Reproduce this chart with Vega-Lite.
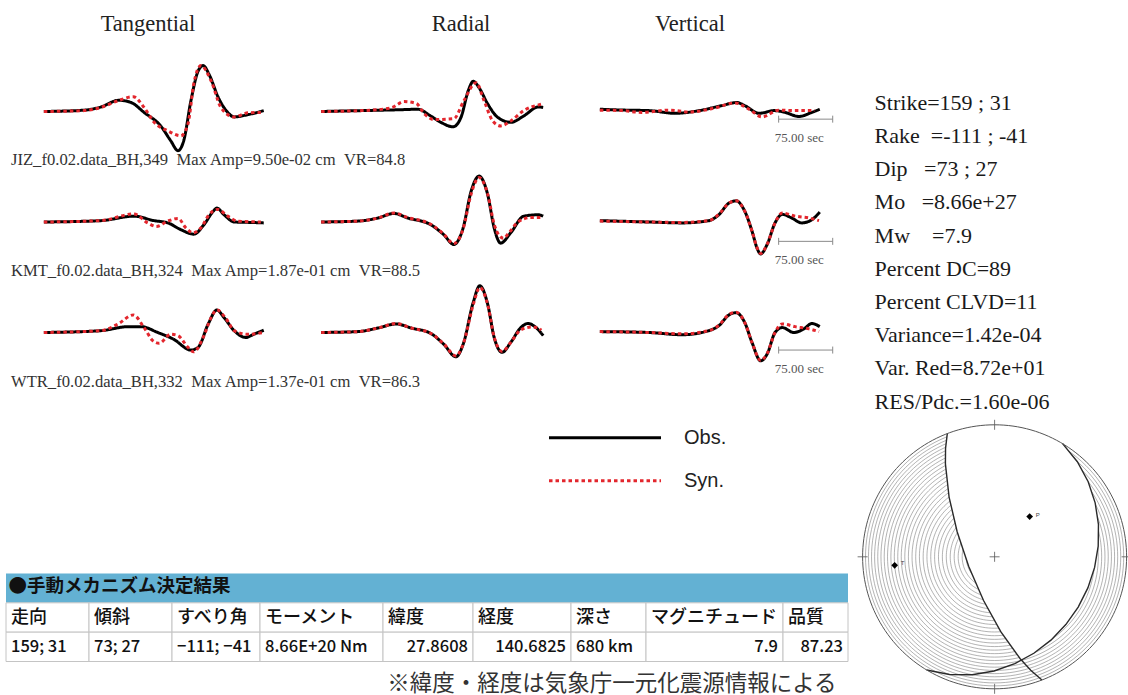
{
"$schema":"https://vega.github.io/schema/vega-lite/v6.json",
"background":"white",
"padding":{"left":5,"top":12.5,"right":0,"bottom":0},
"config":{"view":{"stroke":null},"title":{"fontWeight":"normal"}},
"datasets":{
"waves":[
{"station":"JIZ","comp":"Tangential","kind":"Obs.","t":4,"amp":0},{"station":"JIZ","comp":"Tangential","kind":"Obs.","t":60,"amp":0.03},{"station":"JIZ","comp":"Tangential","kind":"Obs.","t":83,"amp":0.1},{"station":"JIZ","comp":"Tangential","kind":"Obs.","t":108,"amp":0.25},{"station":"JIZ","comp":"Tangential","kind":"Obs.","t":125,"amp":0.2},{"station":"JIZ","comp":"Tangential","kind":"Obs.","t":143,"amp":-0.02},{"station":"JIZ","comp":"Tangential","kind":"Obs.","t":166,"amp":-0.32},{"station":"JIZ","comp":"Tangential","kind":"Obs.","t":180,"amp":-0.65},{"station":"JIZ","comp":"Tangential","kind":"Obs.","t":190,"amp":-0.87},{"station":"JIZ","comp":"Tangential","kind":"Obs.","t":198,"amp":-0.65},{"station":"JIZ","comp":"Tangential","kind":"Obs.","t":208,"amp":0.24},{"station":"JIZ","comp":"Tangential","kind":"Obs.","t":218,"amp":0.9},{"station":"JIZ","comp":"Tangential","kind":"Obs.","t":225,"amp":1.02},{"station":"JIZ","comp":"Tangential","kind":"Obs.","t":233,"amp":0.83},{"station":"JIZ","comp":"Tangential","kind":"Obs.","t":246,"amp":0.31},{"station":"JIZ","comp":"Tangential","kind":"Obs.","t":259,"amp":-0.02},{"station":"JIZ","comp":"Tangential","kind":"Obs.","t":268,"amp":-0.12},{"station":"JIZ","comp":"Tangential","kind":"Obs.","t":287,"amp":-0.07},{"station":"JIZ","comp":"Tangential","kind":"Obs.","t":309,"amp":0.02},
{"station":"JIZ","comp":"Tangential","kind":"Syn.","t":4,"amp":0},{"station":"JIZ","comp":"Tangential","kind":"Syn.","t":60,"amp":0.02},{"station":"JIZ","comp":"Tangential","kind":"Syn.","t":83,"amp":0.09},{"station":"JIZ","comp":"Tangential","kind":"Syn.","t":107,"amp":0.24},{"station":"JIZ","comp":"Tangential","kind":"Syn.","t":128,"amp":0.33},{"station":"JIZ","comp":"Tangential","kind":"Syn.","t":143,"amp":0.09},{"station":"JIZ","comp":"Tangential","kind":"Syn.","t":157,"amp":-0.24},{"station":"JIZ","comp":"Tangential","kind":"Syn.","t":176,"amp":-0.43},{"station":"JIZ","comp":"Tangential","kind":"Syn.","t":194,"amp":-0.54},{"station":"JIZ","comp":"Tangential","kind":"Syn.","t":204,"amp":-0.27},{"station":"JIZ","comp":"Tangential","kind":"Syn.","t":212,"amp":0.62},{"station":"JIZ","comp":"Tangential","kind":"Syn.","t":222,"amp":1.02},{"station":"JIZ","comp":"Tangential","kind":"Syn.","t":236,"amp":0.68},{"station":"JIZ","comp":"Tangential","kind":"Syn.","t":250,"amp":0.08},{"station":"JIZ","comp":"Tangential","kind":"Syn.","t":268,"amp":-0.12},{"station":"JIZ","comp":"Tangential","kind":"Syn.","t":287,"amp":-0.03},{"station":"JIZ","comp":"Tangential","kind":"Syn.","t":305,"amp":-0.02},
{"station":"JIZ","comp":"Radial","kind":"Obs.","t":3,"amp":0},{"station":"JIZ","comp":"Radial","kind":"Obs.","t":60,"amp":0.02},{"station":"JIZ","comp":"Radial","kind":"Obs.","t":114,"amp":0.04},{"station":"JIZ","comp":"Radial","kind":"Obs.","t":137,"amp":0.05},{"station":"JIZ","comp":"Radial","kind":"Obs.","t":155,"amp":-0.1},{"station":"JIZ","comp":"Radial","kind":"Obs.","t":169,"amp":-0.24},{"station":"JIZ","comp":"Radial","kind":"Obs.","t":186,"amp":-0.34},{"station":"JIZ","comp":"Radial","kind":"Obs.","t":197,"amp":-0.13},{"station":"JIZ","comp":"Radial","kind":"Obs.","t":207,"amp":0.46},{"station":"JIZ","comp":"Radial","kind":"Obs.","t":214,"amp":0.67},{"station":"JIZ","comp":"Radial","kind":"Obs.","t":222,"amp":0.53},{"station":"JIZ","comp":"Radial","kind":"Obs.","t":234,"amp":0.17},{"station":"JIZ","comp":"Radial","kind":"Obs.","t":248,"amp":-0.13},{"station":"JIZ","comp":"Radial","kind":"Obs.","t":266,"amp":-0.24},{"station":"JIZ","comp":"Radial","kind":"Obs.","t":284,"amp":-0.1},{"station":"JIZ","comp":"Radial","kind":"Obs.","t":304,"amp":0.1},{"station":"JIZ","comp":"Radial","kind":"Obs.","t":311,"amp":0.09},
{"station":"JIZ","comp":"Radial","kind":"Syn.","t":3,"amp":0},{"station":"JIZ","comp":"Radial","kind":"Syn.","t":60,"amp":0.02},{"station":"JIZ","comp":"Radial","kind":"Syn.","t":100,"amp":0.08},{"station":"JIZ","comp":"Radial","kind":"Syn.","t":118,"amp":0.22},{"station":"JIZ","comp":"Radial","kind":"Syn.","t":135,"amp":0.18},{"station":"JIZ","comp":"Radial","kind":"Syn.","t":146,"amp":-0.05},{"station":"JIZ","comp":"Radial","kind":"Syn.","t":160,"amp":-0.18},{"station":"JIZ","comp":"Radial","kind":"Syn.","t":187,"amp":-0.16},{"station":"JIZ","comp":"Radial","kind":"Syn.","t":201,"amp":0.24},{"station":"JIZ","comp":"Radial","kind":"Syn.","t":218,"amp":0.64},{"station":"JIZ","comp":"Radial","kind":"Syn.","t":229,"amp":0.24},{"station":"JIZ","comp":"Radial","kind":"Syn.","t":241,"amp":-0.21},{"station":"JIZ","comp":"Radial","kind":"Syn.","t":252,"amp":-0.32},{"station":"JIZ","comp":"Radial","kind":"Syn.","t":266,"amp":-0.21},{"station":"JIZ","comp":"Radial","kind":"Syn.","t":284,"amp":0.02},{"station":"JIZ","comp":"Radial","kind":"Syn.","t":308,"amp":0.16},
{"station":"JIZ","comp":"Vertical","kind":"Obs.","t":4,"amp":0.05},{"station":"JIZ","comp":"Vertical","kind":"Obs.","t":40,"amp":0.03},{"station":"JIZ","comp":"Vertical","kind":"Obs.","t":72,"amp":0.02},{"station":"JIZ","comp":"Vertical","kind":"Obs.","t":108,"amp":-0.04},{"station":"JIZ","comp":"Vertical","kind":"Obs.","t":142,"amp":0.02},{"station":"JIZ","comp":"Vertical","kind":"Obs.","t":173,"amp":0.13},{"station":"JIZ","comp":"Vertical","kind":"Obs.","t":194,"amp":0.2},{"station":"JIZ","comp":"Vertical","kind":"Obs.","t":205,"amp":0.13},{"station":"JIZ","comp":"Vertical","kind":"Obs.","t":225,"amp":-0.04},{"station":"JIZ","comp":"Vertical","kind":"Obs.","t":246,"amp":0.02},{"station":"JIZ","comp":"Vertical","kind":"Obs.","t":261,"amp":-0.02},{"station":"JIZ","comp":"Vertical","kind":"Obs.","t":280,"amp":-0.11},{"station":"JIZ","comp":"Vertical","kind":"Obs.","t":298,"amp":-0.02},{"station":"JIZ","comp":"Vertical","kind":"Obs.","t":309,"amp":0.05},
{"station":"JIZ","comp":"Vertical","kind":"Syn.","t":4,"amp":0.03},{"station":"JIZ","comp":"Vertical","kind":"Syn.","t":35,"amp":0.02},{"station":"JIZ","comp":"Vertical","kind":"Syn.","t":62,"amp":-0.02},{"station":"JIZ","comp":"Vertical","kind":"Syn.","t":100,"amp":0.03},{"station":"JIZ","comp":"Vertical","kind":"Syn.","t":128,"amp":-0.01},{"station":"JIZ","comp":"Vertical","kind":"Syn.","t":164,"amp":0.08},{"station":"JIZ","comp":"Vertical","kind":"Syn.","t":191,"amp":0.19},{"station":"JIZ","comp":"Vertical","kind":"Syn.","t":211,"amp":0.05},{"station":"JIZ","comp":"Vertical","kind":"Syn.","t":229,"amp":-0.12},{"station":"JIZ","comp":"Vertical","kind":"Syn.","t":252,"amp":0.03},{"station":"JIZ","comp":"Vertical","kind":"Syn.","t":274,"amp":0.02},{"station":"JIZ","comp":"Vertical","kind":"Syn.","t":302,"amp":0.02},
{"station":"KMT","comp":"Tangential","kind":"Obs.","t":4,"amp":0},{"station":"KMT","comp":"Tangential","kind":"Obs.","t":83,"amp":0.03},{"station":"KMT","comp":"Tangential","kind":"Obs.","t":129,"amp":0.13},{"station":"KMT","comp":"Tangential","kind":"Obs.","t":157,"amp":0.03},{"station":"KMT","comp":"Tangential","kind":"Obs.","t":176,"amp":-0.02},{"station":"KMT","comp":"Tangential","kind":"Obs.","t":194,"amp":-0.17},{"station":"KMT","comp":"Tangential","kind":"Obs.","t":212,"amp":-0.27},{"station":"KMT","comp":"Tangential","kind":"Obs.","t":226,"amp":-0.06},{"station":"KMT","comp":"Tangential","kind":"Obs.","t":239,"amp":0.24},{"station":"KMT","comp":"Tangential","kind":"Obs.","t":244,"amp":0.31},{"station":"KMT","comp":"Tangential","kind":"Obs.","t":254,"amp":0.16},{"station":"KMT","comp":"Tangential","kind":"Obs.","t":268,"amp":0},{"station":"KMT","comp":"Tangential","kind":"Obs.","t":291,"amp":-0.01},{"station":"KMT","comp":"Tangential","kind":"Obs.","t":309,"amp":-0.02},
{"station":"KMT","comp":"Tangential","kind":"Syn.","t":4,"amp":0},{"station":"KMT","comp":"Tangential","kind":"Syn.","t":83,"amp":0.03},{"station":"KMT","comp":"Tangential","kind":"Syn.","t":129,"amp":0.18},{"station":"KMT","comp":"Tangential","kind":"Syn.","t":148,"amp":-0.02},{"station":"KMT","comp":"Tangential","kind":"Syn.","t":160,"amp":-0.1},{"station":"KMT","comp":"Tangential","kind":"Syn.","t":176,"amp":0.02},{"station":"KMT","comp":"Tangential","kind":"Syn.","t":190,"amp":0.08},{"station":"KMT","comp":"Tangential","kind":"Syn.","t":201,"amp":-0.13},{"station":"KMT","comp":"Tangential","kind":"Syn.","t":211,"amp":-0.24},{"station":"KMT","comp":"Tangential","kind":"Syn.","t":222,"amp":-0.13},{"station":"KMT","comp":"Tangential","kind":"Syn.","t":233,"amp":0.16},{"station":"KMT","comp":"Tangential","kind":"Syn.","t":245,"amp":0.28},{"station":"KMT","comp":"Tangential","kind":"Syn.","t":259,"amp":0.13},{"station":"KMT","comp":"Tangential","kind":"Syn.","t":273,"amp":0.02},{"station":"KMT","comp":"Tangential","kind":"Syn.","t":305,"amp":0},
{"station":"KMT","comp":"Radial","kind":"Obs.","t":3,"amp":0},{"station":"KMT","comp":"Radial","kind":"Obs.","t":54,"amp":0.02},{"station":"KMT","comp":"Radial","kind":"Obs.","t":82,"amp":0.09},{"station":"KMT","comp":"Radial","kind":"Obs.","t":104,"amp":0.19},{"station":"KMT","comp":"Radial","kind":"Obs.","t":123,"amp":0.09},{"station":"KMT","comp":"Radial","kind":"Obs.","t":155,"amp":-0.06},{"station":"KMT","comp":"Radial","kind":"Obs.","t":173,"amp":-0.28},{"station":"KMT","comp":"Radial","kind":"Obs.","t":187,"amp":-0.5},{"station":"KMT","comp":"Radial","kind":"Obs.","t":200,"amp":-0.13},{"station":"KMT","comp":"Radial","kind":"Obs.","t":211,"amp":0.68},{"station":"KMT","comp":"Radial","kind":"Obs.","t":222,"amp":1.02},{"station":"KMT","comp":"Radial","kind":"Obs.","t":234,"amp":0.61},{"station":"KMT","comp":"Radial","kind":"Obs.","t":243,"amp":-0.13},{"station":"KMT","comp":"Radial","kind":"Obs.","t":252,"amp":-0.47},{"station":"KMT","comp":"Radial","kind":"Obs.","t":266,"amp":-0.24},{"station":"KMT","comp":"Radial","kind":"Obs.","t":284,"amp":0.13},{"station":"KMT","comp":"Radial","kind":"Obs.","t":304,"amp":0.16},{"station":"KMT","comp":"Radial","kind":"Obs.","t":311,"amp":0.13},
{"station":"KMT","comp":"Radial","kind":"Syn.","t":3,"amp":0},{"station":"KMT","comp":"Radial","kind":"Syn.","t":54,"amp":0.02},{"station":"KMT","comp":"Radial","kind":"Syn.","t":82,"amp":0.09},{"station":"KMT","comp":"Radial","kind":"Syn.","t":104,"amp":0.2},{"station":"KMT","comp":"Radial","kind":"Syn.","t":123,"amp":0.1},{"station":"KMT","comp":"Radial","kind":"Syn.","t":155,"amp":-0.05},{"station":"KMT","comp":"Radial","kind":"Syn.","t":173,"amp":-0.27},{"station":"KMT","comp":"Radial","kind":"Syn.","t":187,"amp":-0.48},{"station":"KMT","comp":"Radial","kind":"Syn.","t":200,"amp":-0.15},{"station":"KMT","comp":"Radial","kind":"Syn.","t":211,"amp":0.62},{"station":"KMT","comp":"Radial","kind":"Syn.","t":222,"amp":0.99},{"station":"KMT","comp":"Radial","kind":"Syn.","t":234,"amp":0.62},{"station":"KMT","comp":"Radial","kind":"Syn.","t":243,"amp":-0.05},{"station":"KMT","comp":"Radial","kind":"Syn.","t":250,"amp":-0.3},{"station":"KMT","comp":"Radial","kind":"Syn.","t":256,"amp":-0.36},{"station":"KMT","comp":"Radial","kind":"Syn.","t":263,"amp":-0.25},{"station":"KMT","comp":"Radial","kind":"Syn.","t":276,"amp":0},{"station":"KMT","comp":"Radial","kind":"Syn.","t":294,"amp":0.1},{"station":"KMT","comp":"Radial","kind":"Syn.","t":311,"amp":0.1},
{"station":"KMT","comp":"Vertical","kind":"Obs.","t":4,"amp":0.03},{"station":"KMT","comp":"Vertical","kind":"Obs.","t":72,"amp":0},{"station":"KMT","comp":"Vertical","kind":"Obs.","t":118,"amp":-0.02},{"station":"KMT","comp":"Vertical","kind":"Obs.","t":155,"amp":0.03},{"station":"KMT","comp":"Vertical","kind":"Obs.","t":169,"amp":0.16},{"station":"KMT","comp":"Vertical","kind":"Obs.","t":183,"amp":0.42},{"station":"KMT","comp":"Vertical","kind":"Obs.","t":193,"amp":0.47},{"station":"KMT","comp":"Vertical","kind":"Obs.","t":205,"amp":0.24},{"station":"KMT","comp":"Vertical","kind":"Obs.","t":215,"amp":-0.2},{"station":"KMT","comp":"Vertical","kind":"Obs.","t":222,"amp":-0.58},{"station":"KMT","comp":"Vertical","kind":"Obs.","t":227,"amp":-0.71},{"station":"KMT","comp":"Vertical","kind":"Obs.","t":236,"amp":-0.5},{"station":"KMT","comp":"Vertical","kind":"Obs.","t":247,"amp":-0.02},{"station":"KMT","comp":"Vertical","kind":"Obs.","t":257,"amp":0.17},{"station":"KMT","comp":"Vertical","kind":"Obs.","t":270,"amp":0.09},{"station":"KMT","comp":"Vertical","kind":"Obs.","t":284,"amp":-0.02},{"station":"KMT","comp":"Vertical","kind":"Obs.","t":298,"amp":0.05},{"station":"KMT","comp":"Vertical","kind":"Obs.","t":309,"amp":0.22},
{"station":"KMT","comp":"Vertical","kind":"Syn.","t":4,"amp":0.02},{"station":"KMT","comp":"Vertical","kind":"Syn.","t":72,"amp":0},{"station":"KMT","comp":"Vertical","kind":"Syn.","t":118,"amp":-0.01},{"station":"KMT","comp":"Vertical","kind":"Syn.","t":155,"amp":0.03},{"station":"KMT","comp":"Vertical","kind":"Syn.","t":169,"amp":0.17},{"station":"KMT","comp":"Vertical","kind":"Syn.","t":183,"amp":0.42},{"station":"KMT","comp":"Vertical","kind":"Syn.","t":193,"amp":0.47},{"station":"KMT","comp":"Vertical","kind":"Syn.","t":205,"amp":0.24},{"station":"KMT","comp":"Vertical","kind":"Syn.","t":215,"amp":-0.2},{"station":"KMT","comp":"Vertical","kind":"Syn.","t":222,"amp":-0.57},{"station":"KMT","comp":"Vertical","kind":"Syn.","t":227,"amp":-0.7},{"station":"KMT","comp":"Vertical","kind":"Syn.","t":236,"amp":-0.5},{"station":"KMT","comp":"Vertical","kind":"Syn.","t":247,"amp":-0.02},{"station":"KMT","comp":"Vertical","kind":"Syn.","t":257,"amp":0.2},{"station":"KMT","comp":"Vertical","kind":"Syn.","t":275,"amp":0.13},{"station":"KMT","comp":"Vertical","kind":"Syn.","t":294,"amp":0.09},{"station":"KMT","comp":"Vertical","kind":"Syn.","t":308,"amp":0.03},
{"station":"WTR","comp":"Tangential","kind":"Obs.","t":4,"amp":0},{"station":"WTR","comp":"Tangential","kind":"Obs.","t":83,"amp":0.04},{"station":"WTR","comp":"Tangential","kind":"Obs.","t":121,"amp":0.13},{"station":"WTR","comp":"Tangential","kind":"Obs.","t":139,"amp":0.13},{"station":"WTR","comp":"Tangential","kind":"Obs.","t":162,"amp":0},{"station":"WTR","comp":"Tangential","kind":"Obs.","t":184,"amp":-0.15},{"station":"WTR","comp":"Tangential","kind":"Obs.","t":208,"amp":-0.39},{"station":"WTR","comp":"Tangential","kind":"Obs.","t":218,"amp":-0.33},{"station":"WTR","comp":"Tangential","kind":"Obs.","t":232,"amp":0.19},{"station":"WTR","comp":"Tangential","kind":"Obs.","t":244,"amp":0.5},{"station":"WTR","comp":"Tangential","kind":"Obs.","t":254,"amp":0.33},{"station":"WTR","comp":"Tangential","kind":"Obs.","t":268,"amp":0.04},{"station":"WTR","comp":"Tangential","kind":"Obs.","t":284,"amp":-0.11},{"station":"WTR","comp":"Tangential","kind":"Obs.","t":295,"amp":-0.04},{"station":"WTR","comp":"Tangential","kind":"Obs.","t":309,"amp":0.05},
{"station":"WTR","comp":"Tangential","kind":"Syn.","t":4,"amp":0},{"station":"WTR","comp":"Tangential","kind":"Syn.","t":83,"amp":0.04},{"station":"WTR","comp":"Tangential","kind":"Syn.","t":107,"amp":0.19},{"station":"WTR","comp":"Tangential","kind":"Syn.","t":128,"amp":0.39},{"station":"WTR","comp":"Tangential","kind":"Syn.","t":143,"amp":0.11},{"station":"WTR","comp":"Tangential","kind":"Syn.","t":155,"amp":-0.18},{"station":"WTR","comp":"Tangential","kind":"Syn.","t":164,"amp":-0.24},{"station":"WTR","comp":"Tangential","kind":"Syn.","t":180,"amp":-0.04},{"station":"WTR","comp":"Tangential","kind":"Syn.","t":190,"amp":-0.07},{"station":"WTR","comp":"Tangential","kind":"Syn.","t":204,"amp":-0.33},{"station":"WTR","comp":"Tangential","kind":"Syn.","t":212,"amp":-0.43},{"station":"WTR","comp":"Tangential","kind":"Syn.","t":225,"amp":-0.11},{"station":"WTR","comp":"Tangential","kind":"Syn.","t":236,"amp":0.33},{"station":"WTR","comp":"Tangential","kind":"Syn.","t":244,"amp":0.5},{"station":"WTR","comp":"Tangential","kind":"Syn.","t":257,"amp":0.3},{"station":"WTR","comp":"Tangential","kind":"Syn.","t":268,"amp":0.04},{"station":"WTR","comp":"Tangential","kind":"Syn.","t":287,"amp":-0.04},{"station":"WTR","comp":"Tangential","kind":"Syn.","t":309,"amp":0},
{"station":"WTR","comp":"Radial","kind":"Obs.","t":3,"amp":0},{"station":"WTR","comp":"Radial","kind":"Obs.","t":54,"amp":0.02},{"station":"WTR","comp":"Radial","kind":"Obs.","t":82,"amp":0.1},{"station":"WTR","comp":"Radial","kind":"Obs.","t":107,"amp":0.19},{"station":"WTR","comp":"Radial","kind":"Obs.","t":128,"amp":0.1},{"station":"WTR","comp":"Radial","kind":"Obs.","t":155,"amp":-0.02},{"station":"WTR","comp":"Radial","kind":"Obs.","t":173,"amp":-0.26},{"station":"WTR","comp":"Radial","kind":"Obs.","t":190,"amp":-0.54},{"station":"WTR","comp":"Radial","kind":"Obs.","t":200,"amp":-0.26},{"station":"WTR","comp":"Radial","kind":"Obs.","t":214,"amp":0.67},{"station":"WTR","comp":"Radial","kind":"Obs.","t":223,"amp":1.04},{"station":"WTR","comp":"Radial","kind":"Obs.","t":234,"amp":0.63},{"station":"WTR","comp":"Radial","kind":"Obs.","t":243,"amp":-0.11},{"station":"WTR","comp":"Radial","kind":"Obs.","t":254,"amp":-0.44},{"station":"WTR","comp":"Radial","kind":"Obs.","t":266,"amp":-0.22},{"station":"WTR","comp":"Radial","kind":"Obs.","t":280,"amp":0.11},{"station":"WTR","comp":"Radial","kind":"Obs.","t":290,"amp":0.2},{"station":"WTR","comp":"Radial","kind":"Obs.","t":301,"amp":0.11},{"station":"WTR","comp":"Radial","kind":"Obs.","t":311,"amp":-0.07},
{"station":"WTR","comp":"Radial","kind":"Syn.","t":3,"amp":0},{"station":"WTR","comp":"Radial","kind":"Syn.","t":54,"amp":0.02},{"station":"WTR","comp":"Radial","kind":"Syn.","t":82,"amp":0.1},{"station":"WTR","comp":"Radial","kind":"Syn.","t":107,"amp":0.2},{"station":"WTR","comp":"Radial","kind":"Syn.","t":128,"amp":0.1},{"station":"WTR","comp":"Radial","kind":"Syn.","t":155,"amp":-0.02},{"station":"WTR","comp":"Radial","kind":"Syn.","t":173,"amp":-0.25},{"station":"WTR","comp":"Radial","kind":"Syn.","t":190,"amp":-0.52},{"station":"WTR","comp":"Radial","kind":"Syn.","t":200,"amp":-0.26},{"station":"WTR","comp":"Radial","kind":"Syn.","t":214,"amp":0.62},{"station":"WTR","comp":"Radial","kind":"Syn.","t":223,"amp":1.0},{"station":"WTR","comp":"Radial","kind":"Syn.","t":234,"amp":0.62},{"station":"WTR","comp":"Radial","kind":"Syn.","t":243,"amp":-0.1},{"station":"WTR","comp":"Radial","kind":"Syn.","t":254,"amp":-0.42},{"station":"WTR","comp":"Radial","kind":"Syn.","t":266,"amp":-0.22},{"station":"WTR","comp":"Radial","kind":"Syn.","t":280,"amp":0.06},{"station":"WTR","comp":"Radial","kind":"Syn.","t":294,"amp":0.12},{"station":"WTR","comp":"Radial","kind":"Syn.","t":304,"amp":0.11},{"station":"WTR","comp":"Radial","kind":"Syn.","t":308,"amp":0.05},
{"station":"WTR","comp":"Vertical","kind":"Obs.","t":4,"amp":0.02},{"station":"WTR","comp":"Vertical","kind":"Obs.","t":72,"amp":0},{"station":"WTR","comp":"Vertical","kind":"Obs.","t":118,"amp":-0.05},{"station":"WTR","comp":"Vertical","kind":"Obs.","t":155,"amp":0.04},{"station":"WTR","comp":"Vertical","kind":"Obs.","t":169,"amp":0.15},{"station":"WTR","comp":"Vertical","kind":"Obs.","t":183,"amp":0.39},{"station":"WTR","comp":"Vertical","kind":"Obs.","t":193,"amp":0.44},{"station":"WTR","comp":"Vertical","kind":"Obs.","t":205,"amp":0.22},{"station":"WTR","comp":"Vertical","kind":"Obs.","t":215,"amp":-0.22},{"station":"WTR","comp":"Vertical","kind":"Obs.","t":227,"amp":-0.63},{"station":"WTR","comp":"Vertical","kind":"Obs.","t":236,"amp":-0.48},{"station":"WTR","comp":"Vertical","kind":"Obs.","t":247,"amp":0},{"station":"WTR","comp":"Vertical","kind":"Obs.","t":257,"amp":0.11},{"station":"WTR","comp":"Vertical","kind":"Obs.","t":273,"amp":0},{"station":"WTR","comp":"Vertical","kind":"Obs.","t":287,"amp":0.08},{"station":"WTR","comp":"Vertical","kind":"Obs.","t":298,"amp":0.2},{"station":"WTR","comp":"Vertical","kind":"Obs.","t":309,"amp":0.13},
{"station":"WTR","comp":"Vertical","kind":"Syn.","t":4,"amp":0.02},{"station":"WTR","comp":"Vertical","kind":"Syn.","t":72,"amp":0},{"station":"WTR","comp":"Vertical","kind":"Syn.","t":118,"amp":-0.03},{"station":"WTR","comp":"Vertical","kind":"Syn.","t":155,"amp":0.04},{"station":"WTR","comp":"Vertical","kind":"Syn.","t":169,"amp":0.16},{"station":"WTR","comp":"Vertical","kind":"Syn.","t":183,"amp":0.4},{"station":"WTR","comp":"Vertical","kind":"Syn.","t":193,"amp":0.45},{"station":"WTR","comp":"Vertical","kind":"Syn.","t":205,"amp":0.22},{"station":"WTR","comp":"Vertical","kind":"Syn.","t":215,"amp":-0.22},{"station":"WTR","comp":"Vertical","kind":"Syn.","t":227,"amp":-0.62},{"station":"WTR","comp":"Vertical","kind":"Syn.","t":236,"amp":-0.47},{"station":"WTR","comp":"Vertical","kind":"Syn.","t":247,"amp":0},{"station":"WTR","comp":"Vertical","kind":"Syn.","t":257,"amp":0.19},{"station":"WTR","comp":"Vertical","kind":"Syn.","t":275,"amp":0.13},{"station":"WTR","comp":"Vertical","kind":"Syn.","t":294,"amp":0.08},{"station":"WTR","comp":"Vertical","kind":"Syn.","t":308,"amp":0.02}
],
"bars":[
{"station":"JIZ","start":252,"end":327,"amp":-0.17,"label":"75.00 sec"},
{"station":"KMT","start":252,"end":327,"amp":-0.43,"label":"75.00 sec"},
{"station":"WTR","start":252,"end":327,"amp":-0.39,"label":"75.00 sec"}
],
"legendKey":[{"kind":"Obs.","p":0},{"kind":"Obs.","p":1},{"kind":"Syn.","p":0},{"kind":"Syn.","p":1}],
"params":[
{"line":0,"label":"Strike=159 ; 31"},
{"line":1,"label":"Rake\u00a0\u00a0=-111 ; -41"},
{"line":2,"label":"Dip\u00a0\u00a0\u00a0=73 ; 27"},
{"line":3,"label":"Mo\u00a0\u00a0\u00a0=8.66e+27"},
{"line":4,"label":"Mw\u00a0\u00a0\u00a0\u00a0=7.9"},
{"line":5,"label":"Percent DC=89"},
{"line":6,"label":"Percent CLVD=11"},
{"line":7,"label":"Variance=1.42e-04"},
{"line":8,"label":"Var. Red=8.72e+01"},
{"line":9,"label":"RES/Pdc.=1.60e-06"}
],
"table":[
{"row":"title","col":"走向"},{"row":"title","col":"傾斜"},{"row":"title","col":"すべり角"},{"row":"title","col":"モーメント"},{"row":"title","col":"緯度"},{"row":"title","col":"経度"},{"row":"title","col":"深さ"},{"row":"title","col":"マグニチュード"},{"row":"title","col":"品質"},
{"row":"head","col":"走向","text":"走向"},{"row":"head","col":"傾斜","text":"傾斜"},{"row":"head","col":"すべり角","text":"すべり角"},{"row":"head","col":"モーメント","text":"モーメント"},{"row":"head","col":"緯度","text":"緯度"},{"row":"head","col":"経度","text":"経度"},{"row":"head","col":"深さ","text":"深さ"},{"row":"head","col":"マグニチュード","text":"マグニチュード"},{"row":"head","col":"品質","text":"品質"},
{"row":"val","col":"走向","text":"159; 31"},{"row":"val","col":"傾斜","text":"73; 27"},{"row":"val","col":"すべり角","text":"−111; −41"},{"row":"val","col":"モーメント","text":"8.66E+20 Nm"},{"row":"val","col":"緯度","text":"27.8608"},{"row":"val","col":"経度","text":"140.6825"},{"row":"val","col":"深さ","text":"680 km"},{"row":"val","col":"マグニチュード","text":"7.9"},{"row":"val","col":"品質","text":"87.23"}
],
"dilatation":[{"type":"Feature","properties":{"quadrant":"dilatation"},"geometry":{"type":"Polygon","coordinates":[[[-159,0],[180,-10],[149,0],[59,27],[14.6,20],[-69,73],[-159,0]]]}}],
"planes":[
{"type":"Feature","properties":{"plane":"strike 159 dip 73"},"geometry":{"type":"LineString","coordinates":[[-159,0],[-69,73],[21,0]]}},
{"type":"Feature","properties":{"plane":"strike 31 dip 27"},"geometry":{"type":"LineString","coordinates":[[149,0],[59,27],[-31,0]]}}
],
"axesPT":[{"axis":"P","lon":138.9,"lat":56.8},{"axis":"T","lon":-85.1,"lat":25.0}],
"netMarks":[{"name":"N","lon":180,"lat":0},{"name":"S","lon":0,"lat":0},{"name":"E","lon":90,"lat":0},{"name":"W","lon":-90,"lat":0},{"name":"C","lon":0,"lat":90}]
},
"hconcat":[
{"concat":[
  {"width":278,"height":72,"title":{"text":"Tangential","anchor":"middle","dx":3,"offset":28.3,"font":"Liberation Serif","fontSize":22.5,"fontWeight":"normal","color":"#222"},
   "data":{"name":"waves"},"transform":[{"filter":"datum.station==='JIZ' && datum.comp==='Tangential'"}],
   "mark":{"type":"line","interpolate":"monotone","strokeWidth":3,"strokeCap":"butt","strokeJoin":"round"},
   "encoding":{"x":{"field":"t","type":"quantitative","scale":{"domain":[-48.5,337.1]},"axis":null},"y":{"field":"amp","type":"quantitative","scale":{"domain":[-0.8,0.8]},"axis":null},"color":{"field":"kind","type":"nominal","scale":{"domain":["Obs.","Syn."],"range":["#000000","#e3262d"]},"legend":null},"strokeDash":{"field":"kind","type":"nominal","scale":{"domain":["Obs.","Syn."],"range":[[1,0],[3.5,3]]},"legend":null}}},
  {"width":278,"height":72,"title":{"text":"Radial","anchor":"middle","dx":38,"offset":39.7,"font":"Liberation Serif","fontSize":22.5,"fontWeight":"normal","color":"#222"},
   "data":{"name":"waves"},"transform":[{"filter":"datum.station==='JIZ' && datum.comp==='Radial'"}],
   "mark":{"type":"line","interpolate":"monotone","strokeWidth":3,"strokeCap":"butt","strokeJoin":"round"},
   "encoding":{"x":{"field":"t","type":"quantitative","scale":{"domain":[-48.5,337.1]},"axis":null},"y":{"field":"amp","type":"quantitative","scale":{"domain":[-0.8,0.8]},"axis":null},"color":{"field":"kind","type":"nominal","scale":{"domain":["Obs.","Syn."],"range":["#000000","#e3262d"]},"legend":null},"strokeDash":{"field":"kind","type":"nominal","scale":{"domain":["Obs.","Syn."],"range":[[1,0],[3.5,3]]},"legend":null}}},
  {"width":278,"height":72,"title":{"text":"Vertical","anchor":"middle","dx":-11,"offset":39.7,"font":"Liberation Serif","fontSize":22.5,"fontWeight":"normal","color":"#222"},
   "layer":[
    {"data":{"name":"waves"},"transform":[{"filter":"datum.station==='JIZ' && datum.comp==='Vertical'"}],
     "mark":{"type":"line","interpolate":"monotone","strokeWidth":3,"strokeCap":"butt","strokeJoin":"round"},
     "encoding":{"x":{"field":"t","type":"quantitative","scale":{"domain":[-48.5,337.1]},"axis":null},"y":{"field":"amp","type":"quantitative","scale":{"domain":[-0.8,0.8]},"axis":null},"color":{"field":"kind","type":"nominal","scale":{"domain":["Obs.","Syn."],"range":["#000000","#e3262d"]},"legend":null},"strokeDash":{"field":"kind","type":"nominal","scale":{"domain":["Obs.","Syn."],"range":[[1,0],[3.5,3]]},"legend":null}}},
    {"data":{"name":"bars"},"transform":[{"filter":"datum.station==='JIZ'"}],"mark":{"type":"rule","color":"#8a8a8a","strokeWidth":1},
     "encoding":{"x":{"field":"start","type":"quantitative","scale":{"domain":[-48.5,337.1]},"axis":null},"x2":{"field":"end"},"y":{"field":"amp","type":"quantitative","scale":{"domain":[-0.8,0.8]},"axis":null}}},
    {"data":{"name":"bars"},"transform":[{"filter":"datum.station==='JIZ'"}],"mark":{"type":"point","shape":"M0,-1V1","filled":false,"stroke":"#8a8a8a","strokeWidth":1,"size":49,"opacity":1},
     "encoding":{"x":{"field":"start","type":"quantitative","scale":{"domain":[-48.5,337.1]},"axis":null},"y":{"field":"amp","type":"quantitative","scale":{"domain":[-0.8,0.8]},"axis":null}}},
    {"data":{"name":"bars"},"transform":[{"filter":"datum.station==='JIZ'"}],"mark":{"type":"point","shape":"M0,-1V1","filled":false,"stroke":"#8a8a8a","strokeWidth":1,"size":49,"opacity":1},
     "encoding":{"x":{"field":"end","type":"quantitative","scale":{"domain":[-48.5,337.1]},"axis":null},"y":{"field":"amp","type":"quantitative","scale":{"domain":[-0.8,0.8]},"axis":null}}},
    {"data":{"name":"bars"},"transform":[{"filter":"datum.station==='JIZ'"}],"mark":{"type":"text","align":"left","baseline":"middle","dx":-4,"dy":18.5,"font":"Liberation Serif","fontSize":13,"color":"#555"},
     "encoding":{"x":{"field":"start","type":"quantitative","scale":{"domain":[-48.5,337.1]},"axis":null},"y":{"field":"amp","type":"quantitative","scale":{"domain":[-0.8,0.8]},"axis":null},"text":{"field":"label"}}}
   ]},
  {"width":278,"height":72,"title":{"text":"JIZ_f0.02.data_BH,349\u00a0\u00a0Max Amp=9.50e-02 cm\u00a0\u00a0VR=84.8","anchor":"start","dx":5,"offset":17.8,"font":"Liberation Serif","fontSize":16.6,"fontWeight":"normal","color":"#333"},
   "data":{"name":"waves"},"transform":[{"filter":"datum.station==='KMT' && datum.comp==='Tangential'"}],
   "mark":{"type":"line","interpolate":"monotone","strokeWidth":3,"strokeCap":"butt","strokeJoin":"round"},
   "encoding":{"x":{"field":"t","type":"quantitative","scale":{"domain":[-48.5,337.1]},"axis":null},"y":{"field":"amp","type":"quantitative","scale":{"domain":[-0.8,0.8]},"axis":null},"color":{"field":"kind","type":"nominal","scale":{"domain":["Obs.","Syn."],"range":["#000000","#e3262d"]},"legend":null},"strokeDash":{"field":"kind","type":"nominal","scale":{"domain":["Obs.","Syn."],"range":[[1,0],[3.5,3]]},"legend":null}}},
  {"width":278,"height":72,
   "data":{"name":"waves"},"transform":[{"filter":"datum.station==='KMT' && datum.comp==='Radial'"}],
   "mark":{"type":"line","interpolate":"monotone","strokeWidth":3,"strokeCap":"butt","strokeJoin":"round"},
   "encoding":{"x":{"field":"t","type":"quantitative","scale":{"domain":[-48.5,337.1]},"axis":null},"y":{"field":"amp","type":"quantitative","scale":{"domain":[-0.8,0.8]},"axis":null},"color":{"field":"kind","type":"nominal","scale":{"domain":["Obs.","Syn."],"range":["#000000","#e3262d"]},"legend":null},"strokeDash":{"field":"kind","type":"nominal","scale":{"domain":["Obs.","Syn."],"range":[[1,0],[3.5,3]]},"legend":null}}},
  {"width":278,"height":72,
   "layer":[
    {"data":{"name":"waves"},"transform":[{"filter":"datum.station==='KMT' && datum.comp==='Vertical'"}],
     "mark":{"type":"line","interpolate":"monotone","strokeWidth":3,"strokeCap":"butt","strokeJoin":"round"},
     "encoding":{"x":{"field":"t","type":"quantitative","scale":{"domain":[-48.5,337.1]},"axis":null},"y":{"field":"amp","type":"quantitative","scale":{"domain":[-0.8,0.8]},"axis":null},"color":{"field":"kind","type":"nominal","scale":{"domain":["Obs.","Syn."],"range":["#000000","#e3262d"]},"legend":null},"strokeDash":{"field":"kind","type":"nominal","scale":{"domain":["Obs.","Syn."],"range":[[1,0],[3.5,3]]},"legend":null}}},
    {"data":{"name":"bars"},"transform":[{"filter":"datum.station==='KMT'"}],"mark":{"type":"rule","color":"#8a8a8a","strokeWidth":1},
     "encoding":{"x":{"field":"start","type":"quantitative","scale":{"domain":[-48.5,337.1]},"axis":null},"x2":{"field":"end"},"y":{"field":"amp","type":"quantitative","scale":{"domain":[-0.8,0.8]},"axis":null}}},
    {"data":{"name":"bars"},"transform":[{"filter":"datum.station==='KMT'"}],"mark":{"type":"point","shape":"M0,-1V1","filled":false,"stroke":"#8a8a8a","strokeWidth":1,"size":49,"opacity":1},
     "encoding":{"x":{"field":"start","type":"quantitative","scale":{"domain":[-48.5,337.1]},"axis":null},"y":{"field":"amp","type":"quantitative","scale":{"domain":[-0.8,0.8]},"axis":null}}},
    {"data":{"name":"bars"},"transform":[{"filter":"datum.station==='KMT'"}],"mark":{"type":"point","shape":"M0,-1V1","filled":false,"stroke":"#8a8a8a","strokeWidth":1,"size":49,"opacity":1},
     "encoding":{"x":{"field":"end","type":"quantitative","scale":{"domain":[-48.5,337.1]},"axis":null},"y":{"field":"amp","type":"quantitative","scale":{"domain":[-0.8,0.8]},"axis":null}}},
    {"data":{"name":"bars"},"transform":[{"filter":"datum.station==='KMT'"}],"mark":{"type":"text","align":"left","baseline":"middle","dx":-4,"dy":18.5,"font":"Liberation Serif","fontSize":13,"color":"#555"},
     "encoding":{"x":{"field":"start","type":"quantitative","scale":{"domain":[-48.5,337.1]},"axis":null},"y":{"field":"amp","type":"quantitative","scale":{"domain":[-0.8,0.8]},"axis":null},"text":{"field":"label"}}}
   ]},
  {"width":278,"height":72,"title":{"text":"KMT_f0.02.data_BH,324\u00a0\u00a0Max Amp=1.87e-01 cm\u00a0\u00a0VR=88.5","anchor":"start","dx":5,"offset":17.3,"font":"Liberation Serif","fontSize":16.6,"fontWeight":"normal","color":"#333"},
   "data":{"name":"waves"},"transform":[{"filter":"datum.station==='WTR' && datum.comp==='Tangential'"}],
   "mark":{"type":"line","interpolate":"monotone","strokeWidth":3,"strokeCap":"butt","strokeJoin":"round"},
   "encoding":{"x":{"field":"t","type":"quantitative","scale":{"domain":[-48.5,337.1]},"axis":null},"y":{"field":"amp","type":"quantitative","scale":{"domain":[-0.8,0.8]},"axis":null},"color":{"field":"kind","type":"nominal","scale":{"domain":["Obs.","Syn."],"range":["#000000","#e3262d"]},"legend":null},"strokeDash":{"field":"kind","type":"nominal","scale":{"domain":["Obs.","Syn."],"range":[[1,0],[3.5,3]]},"legend":null}}},
  {"width":278,"height":72,
   "data":{"name":"waves"},"transform":[{"filter":"datum.station==='WTR' && datum.comp==='Radial'"}],
   "mark":{"type":"line","interpolate":"monotone","strokeWidth":3,"strokeCap":"butt","strokeJoin":"round"},
   "encoding":{"x":{"field":"t","type":"quantitative","scale":{"domain":[-48.5,337.1]},"axis":null},"y":{"field":"amp","type":"quantitative","scale":{"domain":[-0.8,0.8]},"axis":null},"color":{"field":"kind","type":"nominal","scale":{"domain":["Obs.","Syn."],"range":["#000000","#e3262d"]},"legend":null},"strokeDash":{"field":"kind","type":"nominal","scale":{"domain":["Obs.","Syn."],"range":[[1,0],[3.5,3]]},"legend":null}}},
  {"width":278,"height":72,
   "layer":[
    {"data":{"name":"waves"},"transform":[{"filter":"datum.station==='WTR' && datum.comp==='Vertical'"}],
     "mark":{"type":"line","interpolate":"monotone","strokeWidth":3,"strokeCap":"butt","strokeJoin":"round"},
     "encoding":{"x":{"field":"t","type":"quantitative","scale":{"domain":[-48.5,337.1]},"axis":null},"y":{"field":"amp","type":"quantitative","scale":{"domain":[-0.8,0.8]},"axis":null},"color":{"field":"kind","type":"nominal","scale":{"domain":["Obs.","Syn."],"range":["#000000","#e3262d"]},"legend":null},"strokeDash":{"field":"kind","type":"nominal","scale":{"domain":["Obs.","Syn."],"range":[[1,0],[3.5,3]]},"legend":null}}},
    {"data":{"name":"bars"},"transform":[{"filter":"datum.station==='WTR'"}],"mark":{"type":"rule","color":"#8a8a8a","strokeWidth":1},
     "encoding":{"x":{"field":"start","type":"quantitative","scale":{"domain":[-48.5,337.1]},"axis":null},"x2":{"field":"end"},"y":{"field":"amp","type":"quantitative","scale":{"domain":[-0.8,0.8]},"axis":null}}},
    {"data":{"name":"bars"},"transform":[{"filter":"datum.station==='WTR'"}],"mark":{"type":"point","shape":"M0,-1V1","filled":false,"stroke":"#8a8a8a","strokeWidth":1,"size":49,"opacity":1},
     "encoding":{"x":{"field":"start","type":"quantitative","scale":{"domain":[-48.5,337.1]},"axis":null},"y":{"field":"amp","type":"quantitative","scale":{"domain":[-0.8,0.8]},"axis":null}}},
    {"data":{"name":"bars"},"transform":[{"filter":"datum.station==='WTR'"}],"mark":{"type":"point","shape":"M0,-1V1","filled":false,"stroke":"#8a8a8a","strokeWidth":1,"size":49,"opacity":1},
     "encoding":{"x":{"field":"end","type":"quantitative","scale":{"domain":[-48.5,337.1]},"axis":null},"y":{"field":"amp","type":"quantitative","scale":{"domain":[-0.8,0.8]},"axis":null}}},
    {"data":{"name":"bars"},"transform":[{"filter":"datum.station==='WTR'"}],"mark":{"type":"text","align":"left","baseline":"middle","dx":-4,"dy":18.5,"font":"Liberation Serif","fontSize":13,"color":"#555"},
     "encoding":{"x":{"field":"start","type":"quantitative","scale":{"domain":[-48.5,337.1]},"axis":null},"y":{"field":"amp","type":"quantitative","scale":{"domain":[-0.8,0.8]},"axis":null},"text":{"field":"label"}}}
   ]},
  {"width":278,"height":127.3,
   "title":{"text":"WTR_f0.02.data_BH,332\u00a0\u00a0Max Amp=1.37e-01 cm\u00a0\u00a0VR=86.3","anchor":"start","dx":5,"offset":16.8,"font":"Liberation Serif","fontSize":16.6,"fontWeight":"normal","color":"#333"},
   "data":{"name":"legendKey"},
   "layer":[
    {"mark":{"type":"line","strokeWidth":3,"strokeCap":"butt"},
     "encoding":{"x":{"field":"p","type":"quantitative","scale":{"domain":[-4.848,-2.366]},"axis":null},"y":{"field":"kind","type":"nominal","scale":{"type":"point","padding":0.98,"align":0.365},"axis":null},"color":{"field":"kind","type":"nominal","scale":{"domain":["Obs.","Syn."],"range":["#000000","#e3262d"]},"legend":null},"strokeDash":{"field":"kind","type":"nominal","scale":{"domain":["Obs.","Syn."],"range":[[1,0],[3.5,3]]},"legend":null}}},
    {"transform":[{"filter":"datum.p===1"}],"mark":{"type":"text","align":"left","baseline":"middle","dx":23,"font":"Liberation Sans","fontSize":20,"color":"#222"},
     "encoding":{"x":{"field":"p","type":"quantitative","scale":{"domain":[-4.848,-2.366]},"axis":null},"y":{"field":"kind","type":"nominal","scale":{"type":"point","padding":0.98,"align":0.365},"axis":null},"text":{"field":"kind"}}}
   ]},
  {"width":1,"height":1,"data":{"values":[]},"mark":{"type":"point","opacity":0}},
  {"width":1,"height":1,"data":{"values":[]},"mark":{"type":"point","opacity":0}},
  {"title":{"text":"●手動メカニズム決定結果","anchor":"start","dx":3,"offset":-21.5,"font":"Noto Sans CJK JP","fontSize":18.5,"fontWeight":"bold","color":"#111"},
   "hconcat":[
    {"width":83,"height":88,"data":{"name":"table"},"transform":[{"filter":"datum.col==='走向'"}],"layer":[
      {"transform":[{"filter":"datum.row==='title'"}],"mark":{"type":"rect","fill":"#63b1d3"},"encoding":{"y":{"field":"row","type":"nominal","scale":{"domain":["title","head","val"],"paddingInner":0,"paddingOuter":0},"axis":null}}},
      {"transform":[{"filter":"datum.row!=='title'"}],"mark":{"type":"rect","fill":"white","stroke":"#c4c4c4","strokeWidth":1},"encoding":{"y":{"field":"row","type":"nominal","scale":{"domain":["title","head","val"],"paddingInner":0,"paddingOuter":0},"axis":null}}},
      {"transform":[{"filter":"datum.row==='head'"}],"mark":{"type":"text","align":"left","baseline":"middle","dx":5,"font":"Noto Sans CJK JP","fontSize":18,"fontWeight":500,"color":"#111"},"encoding":{"x":{"datum":0,"type":"quantitative","scale":{"domain":[0,1]},"axis":null},"y":{"field":"row","type":"nominal","scale":{"domain":["title","head","val"],"paddingInner":0,"paddingOuter":0},"axis":null},"text":{"field":"text"}}},
      {"transform":[{"filter":"datum.row==='val'"}],"mark":{"type":"text","align":"left","baseline":"middle","dx":5,"font":"Noto Sans CJK JP","fontSize":16.5,"fontWeight":500,"color":"#111"},"encoding":{"x":{"datum":0,"type":"quantitative","scale":{"domain":[0,1]},"axis":null},"y":{"field":"row","type":"nominal","scale":{"domain":["title","head","val"],"paddingInner":0,"paddingOuter":0},"axis":null},"text":{"field":"text"}}}
    ]},
    {"width":83,"height":88,"data":{"name":"table"},"transform":[{"filter":"datum.col==='傾斜'"}],"layer":[
      {"transform":[{"filter":"datum.row==='title'"}],"mark":{"type":"rect","fill":"#63b1d3"},"encoding":{"y":{"field":"row","type":"nominal","scale":{"domain":["title","head","val"],"paddingInner":0,"paddingOuter":0},"axis":null}}},
      {"transform":[{"filter":"datum.row!=='title'"}],"mark":{"type":"rect","fill":"white","stroke":"#c4c4c4","strokeWidth":1},"encoding":{"y":{"field":"row","type":"nominal","scale":{"domain":["title","head","val"],"paddingInner":0,"paddingOuter":0},"axis":null}}},
      {"transform":[{"filter":"datum.row==='head'"}],"mark":{"type":"text","align":"left","baseline":"middle","dx":5,"font":"Noto Sans CJK JP","fontSize":18,"fontWeight":500,"color":"#111"},"encoding":{"x":{"datum":0,"type":"quantitative","scale":{"domain":[0,1]},"axis":null},"y":{"field":"row","type":"nominal","scale":{"domain":["title","head","val"],"paddingInner":0,"paddingOuter":0},"axis":null},"text":{"field":"text"}}},
      {"transform":[{"filter":"datum.row==='val'"}],"mark":{"type":"text","align":"left","baseline":"middle","dx":5,"font":"Noto Sans CJK JP","fontSize":16.5,"fontWeight":500,"color":"#111"},"encoding":{"x":{"datum":0,"type":"quantitative","scale":{"domain":[0,1]},"axis":null},"y":{"field":"row","type":"nominal","scale":{"domain":["title","head","val"],"paddingInner":0,"paddingOuter":0},"axis":null},"text":{"field":"text"}}}
    ]},
    {"width":88,"height":88,"data":{"name":"table"},"transform":[{"filter":"datum.col==='すべり角'"}],"layer":[
      {"transform":[{"filter":"datum.row==='title'"}],"mark":{"type":"rect","fill":"#63b1d3"},"encoding":{"y":{"field":"row","type":"nominal","scale":{"domain":["title","head","val"],"paddingInner":0,"paddingOuter":0},"axis":null}}},
      {"transform":[{"filter":"datum.row!=='title'"}],"mark":{"type":"rect","fill":"white","stroke":"#c4c4c4","strokeWidth":1},"encoding":{"y":{"field":"row","type":"nominal","scale":{"domain":["title","head","val"],"paddingInner":0,"paddingOuter":0},"axis":null}}},
      {"transform":[{"filter":"datum.row==='head'"}],"mark":{"type":"text","align":"left","baseline":"middle","dx":5,"font":"Noto Sans CJK JP","fontSize":18,"fontWeight":500,"color":"#111"},"encoding":{"x":{"datum":0,"type":"quantitative","scale":{"domain":[0,1]},"axis":null},"y":{"field":"row","type":"nominal","scale":{"domain":["title","head","val"],"paddingInner":0,"paddingOuter":0},"axis":null},"text":{"field":"text"}}},
      {"transform":[{"filter":"datum.row==='val'"}],"mark":{"type":"text","align":"left","baseline":"middle","dx":5,"font":"Noto Sans CJK JP","fontSize":16.5,"fontWeight":500,"color":"#111"},"encoding":{"x":{"datum":0,"type":"quantitative","scale":{"domain":[0,1]},"axis":null},"y":{"field":"row","type":"nominal","scale":{"domain":["title","head","val"],"paddingInner":0,"paddingOuter":0},"axis":null},"text":{"field":"text"}}}
    ]},
    {"width":123,"height":88,"data":{"name":"table"},"transform":[{"filter":"datum.col==='モーメント'"}],"layer":[
      {"transform":[{"filter":"datum.row==='title'"}],"mark":{"type":"rect","fill":"#63b1d3"},"encoding":{"y":{"field":"row","type":"nominal","scale":{"domain":["title","head","val"],"paddingInner":0,"paddingOuter":0},"axis":null}}},
      {"transform":[{"filter":"datum.row!=='title'"}],"mark":{"type":"rect","fill":"white","stroke":"#c4c4c4","strokeWidth":1},"encoding":{"y":{"field":"row","type":"nominal","scale":{"domain":["title","head","val"],"paddingInner":0,"paddingOuter":0},"axis":null}}},
      {"transform":[{"filter":"datum.row==='head'"}],"mark":{"type":"text","align":"left","baseline":"middle","dx":5,"font":"Noto Sans CJK JP","fontSize":18,"fontWeight":500,"color":"#111"},"encoding":{"x":{"datum":0,"type":"quantitative","scale":{"domain":[0,1]},"axis":null},"y":{"field":"row","type":"nominal","scale":{"domain":["title","head","val"],"paddingInner":0,"paddingOuter":0},"axis":null},"text":{"field":"text"}}},
      {"transform":[{"filter":"datum.row==='val'"}],"mark":{"type":"text","align":"left","baseline":"middle","dx":5,"font":"Noto Sans CJK JP","fontSize":16.5,"fontWeight":500,"color":"#111"},"encoding":{"x":{"datum":0,"type":"quantitative","scale":{"domain":[0,1]},"axis":null},"y":{"field":"row","type":"nominal","scale":{"domain":["title","head","val"],"paddingInner":0,"paddingOuter":0},"axis":null},"text":{"field":"text"}}}
    ]},
    {"width":90,"height":88,"data":{"name":"table"},"transform":[{"filter":"datum.col==='緯度'"}],"layer":[
      {"transform":[{"filter":"datum.row==='title'"}],"mark":{"type":"rect","fill":"#63b1d3"},"encoding":{"y":{"field":"row","type":"nominal","scale":{"domain":["title","head","val"],"paddingInner":0,"paddingOuter":0},"axis":null}}},
      {"transform":[{"filter":"datum.row!=='title'"}],"mark":{"type":"rect","fill":"white","stroke":"#c4c4c4","strokeWidth":1},"encoding":{"y":{"field":"row","type":"nominal","scale":{"domain":["title","head","val"],"paddingInner":0,"paddingOuter":0},"axis":null}}},
      {"transform":[{"filter":"datum.row==='head'"}],"mark":{"type":"text","align":"left","baseline":"middle","dx":5,"font":"Noto Sans CJK JP","fontSize":18,"fontWeight":500,"color":"#111"},"encoding":{"x":{"datum":0,"type":"quantitative","scale":{"domain":[0,1]},"axis":null},"y":{"field":"row","type":"nominal","scale":{"domain":["title","head","val"],"paddingInner":0,"paddingOuter":0},"axis":null},"text":{"field":"text"}}},
      {"transform":[{"filter":"datum.row==='val'"}],"mark":{"type":"text","align":"right","baseline":"middle","dx":-5,"font":"Noto Sans CJK JP","fontSize":16.5,"fontWeight":500,"color":"#111"},"encoding":{"x":{"datum":1,"type":"quantitative","scale":{"domain":[0,1]},"axis":null},"y":{"field":"row","type":"nominal","scale":{"domain":["title","head","val"],"paddingInner":0,"paddingOuter":0},"axis":null},"text":{"field":"text"}}}
    ]},
    {"width":98,"height":88,"data":{"name":"table"},"transform":[{"filter":"datum.col==='経度'"}],"layer":[
      {"transform":[{"filter":"datum.row==='title'"}],"mark":{"type":"rect","fill":"#63b1d3"},"encoding":{"y":{"field":"row","type":"nominal","scale":{"domain":["title","head","val"],"paddingInner":0,"paddingOuter":0},"axis":null}}},
      {"transform":[{"filter":"datum.row!=='title'"}],"mark":{"type":"rect","fill":"white","stroke":"#c4c4c4","strokeWidth":1},"encoding":{"y":{"field":"row","type":"nominal","scale":{"domain":["title","head","val"],"paddingInner":0,"paddingOuter":0},"axis":null}}},
      {"transform":[{"filter":"datum.row==='head'"}],"mark":{"type":"text","align":"left","baseline":"middle","dx":5,"font":"Noto Sans CJK JP","fontSize":18,"fontWeight":500,"color":"#111"},"encoding":{"x":{"datum":0,"type":"quantitative","scale":{"domain":[0,1]},"axis":null},"y":{"field":"row","type":"nominal","scale":{"domain":["title","head","val"],"paddingInner":0,"paddingOuter":0},"axis":null},"text":{"field":"text"}}},
      {"transform":[{"filter":"datum.row==='val'"}],"mark":{"type":"text","align":"right","baseline":"middle","dx":-5,"font":"Noto Sans CJK JP","fontSize":16.5,"fontWeight":500,"color":"#111"},"encoding":{"x":{"datum":1,"type":"quantitative","scale":{"domain":[0,1]},"axis":null},"y":{"field":"row","type":"nominal","scale":{"domain":["title","head","val"],"paddingInner":0,"paddingOuter":0},"axis":null},"text":{"field":"text"}}}
    ]},
    {"width":75,"height":88,"data":{"name":"table"},"transform":[{"filter":"datum.col==='深さ'"}],"layer":[
      {"transform":[{"filter":"datum.row==='title'"}],"mark":{"type":"rect","fill":"#63b1d3"},"encoding":{"y":{"field":"row","type":"nominal","scale":{"domain":["title","head","val"],"paddingInner":0,"paddingOuter":0},"axis":null}}},
      {"transform":[{"filter":"datum.row!=='title'"}],"mark":{"type":"rect","fill":"white","stroke":"#c4c4c4","strokeWidth":1},"encoding":{"y":{"field":"row","type":"nominal","scale":{"domain":["title","head","val"],"paddingInner":0,"paddingOuter":0},"axis":null}}},
      {"transform":[{"filter":"datum.row==='head'"}],"mark":{"type":"text","align":"left","baseline":"middle","dx":5,"font":"Noto Sans CJK JP","fontSize":18,"fontWeight":500,"color":"#111"},"encoding":{"x":{"datum":0,"type":"quantitative","scale":{"domain":[0,1]},"axis":null},"y":{"field":"row","type":"nominal","scale":{"domain":["title","head","val"],"paddingInner":0,"paddingOuter":0},"axis":null},"text":{"field":"text"}}},
      {"transform":[{"filter":"datum.row==='val'"}],"mark":{"type":"text","align":"left","baseline":"middle","dx":5,"font":"Noto Sans CJK JP","fontSize":16.5,"fontWeight":500,"color":"#111"},"encoding":{"x":{"datum":0,"type":"quantitative","scale":{"domain":[0,1]},"axis":null},"y":{"field":"row","type":"nominal","scale":{"domain":["title","head","val"],"paddingInner":0,"paddingOuter":0},"axis":null},"text":{"field":"text"}}}
    ]},
    {"width":137,"height":88,"data":{"name":"table"},"transform":[{"filter":"datum.col==='マグニチュード'"}],"layer":[
      {"transform":[{"filter":"datum.row==='title'"}],"mark":{"type":"rect","fill":"#63b1d3"},"encoding":{"y":{"field":"row","type":"nominal","scale":{"domain":["title","head","val"],"paddingInner":0,"paddingOuter":0},"axis":null}}},
      {"transform":[{"filter":"datum.row!=='title'"}],"mark":{"type":"rect","fill":"white","stroke":"#c4c4c4","strokeWidth":1},"encoding":{"y":{"field":"row","type":"nominal","scale":{"domain":["title","head","val"],"paddingInner":0,"paddingOuter":0},"axis":null}}},
      {"transform":[{"filter":"datum.row==='head'"}],"mark":{"type":"text","align":"left","baseline":"middle","dx":5,"font":"Noto Sans CJK JP","fontSize":18,"fontWeight":500,"color":"#111"},"encoding":{"x":{"datum":0,"type":"quantitative","scale":{"domain":[0,1]},"axis":null},"y":{"field":"row","type":"nominal","scale":{"domain":["title","head","val"],"paddingInner":0,"paddingOuter":0},"axis":null},"text":{"field":"text"}}},
      {"transform":[{"filter":"datum.row==='val'"}],"mark":{"type":"text","align":"right","baseline":"middle","dx":-5,"font":"Noto Sans CJK JP","fontSize":16.5,"fontWeight":500,"color":"#111"},"encoding":{"x":{"datum":1,"type":"quantitative","scale":{"domain":[0,1]},"axis":null},"y":{"field":"row","type":"nominal","scale":{"domain":["title","head","val"],"paddingInner":0,"paddingOuter":0},"axis":null},"text":{"field":"text"}}}
    ]},
    {"width":65,"height":88,"title":{"text":"※緯度・経度は気象庁一元化震源情報による","orient":"bottom","anchor":"end","dx":-12,"offset":11,"font":"Noto Sans CJK JP","fontSize":22.5,"fontWeight":"normal","color":"#333"},
     "data":{"name":"table"},"transform":[{"filter":"datum.col==='品質'"}],"layer":[
      {"transform":[{"filter":"datum.row==='title'"}],"mark":{"type":"rect","fill":"#63b1d3"},"encoding":{"y":{"field":"row","type":"nominal","scale":{"domain":["title","head","val"],"paddingInner":0,"paddingOuter":0},"axis":null}}},
      {"transform":[{"filter":"datum.row!=='title'"}],"mark":{"type":"rect","fill":"white","stroke":"#c4c4c4","strokeWidth":1},"encoding":{"y":{"field":"row","type":"nominal","scale":{"domain":["title","head","val"],"paddingInner":0,"paddingOuter":0},"axis":null}}},
      {"transform":[{"filter":"datum.row==='head'"}],"mark":{"type":"text","align":"left","baseline":"middle","dx":5,"font":"Noto Sans CJK JP","fontSize":18,"fontWeight":500,"color":"#111"},"encoding":{"x":{"datum":0,"type":"quantitative","scale":{"domain":[0,1]},"axis":null},"y":{"field":"row","type":"nominal","scale":{"domain":["title","head","val"],"paddingInner":0,"paddingOuter":0},"axis":null},"text":{"field":"text"}}},
      {"transform":[{"filter":"datum.row==='val'"}],"mark":{"type":"text","align":"right","baseline":"middle","dx":-5,"font":"Noto Sans CJK JP","fontSize":16.5,"fontWeight":500,"color":"#111"},"encoding":{"x":{"datum":1,"type":"quantitative","scale":{"domain":[0,1]},"axis":null},"y":{"field":"row","type":"nominal","scale":{"domain":["title","head","val"],"paddingInner":0,"paddingOuter":0},"axis":null},"text":{"field":"text"}}}
    ]}
   ],"spacing":0,"bounds":"flush"}
 ],"columns":3,"bounds":"flush","spacing":{"row":38.5,"column":0}},
{"vconcat":[
 {"width":24,"height":340,"data":{"name":"params"},
  "mark":{"type":"text","align":"left","baseline":"middle","font":"Liberation Serif","fontSize":22,"color":"#1a1a1a"},
  "encoding":{"y":{"field":"line","type":"quantitative","scale":{"domain":[-0.822,9.419],"reverse":true,"zero":false,"nice":false},"axis":null},"text":{"field":"label"}}},
 {"width":264,"height":264,
  "projection":{"type":"azimuthalEqualArea","rotate":[0,-90,0],"clipAngle":90},
  "layer":[
   {"data":{"graticule":{"extentMajor":[[-180,-90],[180,-89]],"extentMinor":[[-180,0],[180,88]],"stepMajor":[360,360],"stepMinor":[360,2.5]}},"mark":{"type":"geoshape","filled":false,"stroke":"#808080","strokeWidth":0.6}},
   {"data":{"name":"dilatation"},"mark":{"type":"geoshape","fill":"white","strokeWidth":0}},
   {"data":{"name":"planes"},"mark":{"type":"geoshape","filled":false,"stroke":"#2a2a2a","strokeWidth":1.4}},
   {"data":{"sphere":true},"mark":{"type":"geoshape","filled":false,"stroke":"#555555","strokeWidth":1}},
   {"data":{"name":"netMarks"},"transform":[{"filter":"datum.name==='N' || datum.name==='S' || datum.name==='C'"}],"mark":{"type":"point","shape":"M0,-1V1","filled":false,"stroke":"#555","strokeWidth":0.8,"size":100,"opacity":1},
    "encoding":{"longitude":{"field":"lon","type":"quantitative"},"latitude":{"field":"lat","type":"quantitative"}}},
   {"data":{"name":"netMarks"},"transform":[{"filter":"datum.name==='E' || datum.name==='W' || datum.name==='C'"}],"mark":{"type":"point","shape":"M-1,0H1","filled":false,"stroke":"#555","strokeWidth":0.8,"size":100,"opacity":1},
    "encoding":{"longitude":{"field":"lon","type":"quantitative"},"latitude":{"field":"lat","type":"quantitative"}}},
   {"data":{"name":"axesPT"},"mark":{"type":"point","shape":"diamond","filled":true,"color":"#000","size":45,"opacity":1},
    "encoding":{"longitude":{"field":"lon","type":"quantitative"},"latitude":{"field":"lat","type":"quantitative"}}},
   {"data":{"name":"axesPT"},"mark":{"type":"text","align":"left","baseline":"middle","dx":6,"dy":-2,"font":"Liberation Sans","fontSize":6,"color":"#444"},
    "encoding":{"longitude":{"field":"lon","type":"quantitative"},"latitude":{"field":"lat","type":"quantitative"},"text":{"field":"axis"}}}
  ]}
],"spacing":9.3,"bounds":"flush"}
],"spacing":6.6
}
